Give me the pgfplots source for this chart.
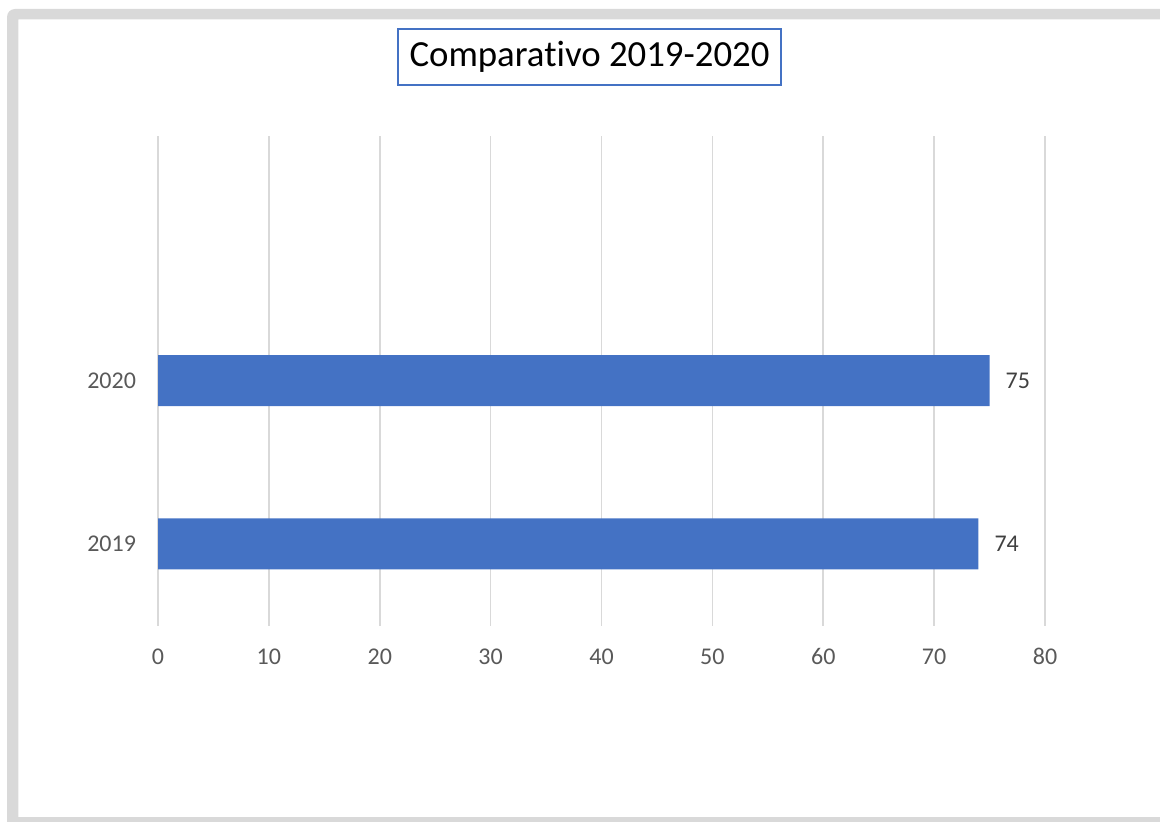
\documentclass[border=0pt]{standalone}
\usepackage{fontspec}
\setmainfont{Carlito}[Ligatures=NoCommon]
\usepackage{pgfplots}
\pgfplotsset{compat=1.18}

\definecolor{barblue}{HTML}{4472C4}
\definecolor{framegray}{HTML}{D9D9D9}
\definecolor{gridgray}{HTML}{D9D9D9}
\definecolor{ticktext}{HTML}{595959}
\definecolor{labeltext}{HTML}{404040}

\begin{document}
\begin{tikzpicture}
	% 1 px of the reference = 0.5pt
	\useasboundingbox (0,0) rectangle (580pt,410.5pt);
	\begin{scope}
		\clip (0,0) rectangle (580pt,410.5pt);
		\fill[framegray] (3.5pt,-20pt) {[rounded corners=4pt] -- (3.5pt,406pt) -- (640pt,406pt)}
			-- (640pt,400.85pt) -- (9.15pt,400.85pt) -- (9.15pt,-20pt) -- cycle;
		\fill[framegray] (3.5pt,-20pt) rectangle (640pt,2pt);
	\end{scope}

	\node[draw=barblue, line width=1pt, minimum width=191.5pt, minimum height=28pt,
		inner sep=0pt, font=\fontsize{18.4}{22}\selectfont] at (294.75pt,382pt) {Comparativo 2019-2020};

	\begin{axis}[
		at={(79pt,97.75pt)}, anchor=south west,
		scale only axis,
		width=443.5pt, height=245pt,
		xbar, bar width=25.5pt,
		xmin=0, xmax=80,
		ymin=-0.5, ymax=2.5,
		xtick={0,10,...,80},
		ytick={0,1},
		yticklabels={2019,2020},
		xmajorgrids=true,
		major grid style={gridgray, line width=0.8pt},
		axis line style={draw=none},
		major tick length=0pt,
		/pgf/number format/assume math mode=true,
		tick label style={font=\fontsize{12}{14}\selectfont, text=ticktext},
		xticklabel style={yshift=-8pt},
		yticklabel style={xshift=-7.5pt},
		nodes near coords,
		nodes near coords style={font=\fontsize{12}{14}\selectfont, text=labeltext, anchor=west, xshift=4.5pt},
		clip=false]
		\addplot[fill=barblue, draw=none] coordinates {(74,0) (75,1)};
	\end{axis}
\end{tikzpicture}
\end{document}
